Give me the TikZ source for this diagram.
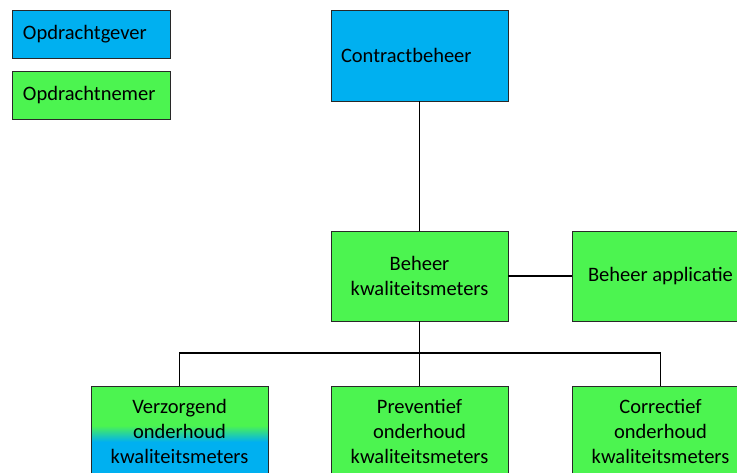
\documentclass[tikz,border=0pt]{standalone}
\usepackage{fontspec}
\setmainfont{Carlito}
\usepackage{xcolor}
\usepackage{tikz}
\usetikzlibrary{positioning,calc}
\definecolor{gvblue}{RGB}{0,176,240}
\definecolor{gngreen}{RGB}{76,244,80}
\definecolor{boxline}{RGB}{40,40,40}
\pgfdeclareverticalshading{verzorgshade}{100bp}{color(0bp)=(gvblue); color(44bp)=(gvblue); color(53bp)=(gngreen); color(100bp)=(gngreen)}

\begin{document}
\begin{tikzpicture}[x=1pt, y=-1pt,
    box/.style={draw=boxline, line width=0.9pt, inner sep=0pt, minimum width=177pt, minimum height=90pt, align=center, font=\fontsize{20.5}{25}\selectfont},
    legend/.style={draw=boxline, line width=0.9pt, inner xsep=11pt, inner ysep=0pt, text width=136pt, minimum height=48pt, align=left, font=\fontsize{20.5}{25}\selectfont},
    link/.style={draw=black, line width=1.6pt},
]
    \useasboundingbox (0,0) rectangle (737,473);
    \clip (0,0) rectangle (737,473);

    % Legend
    \node[legend, fill=gvblue] (leggever) at (91,34) {Opdrachtgever};
    \node[legend, fill=gngreen] (legnemer) at (91,95) {Opdrachtnemer};

    % Top
    \node[box, fill=gvblue, align=left, inner xsep=10pt, text width=157pt, minimum height=91pt] (ctrbeheer) at (419.5,55.5) {Contractbeheer};

    % Middle row
    \node[box, fill=gngreen] (kwbeheer) at (419.5,276) {Beheer\\kwaliteitsmeters};
    \node[box, fill=gngreen] (appbeheer) at (660.5,276) {Beheer applicatie};

    % Bottom row
    \node[box, shade, shading=verzorgshade] (verzorgend) at (179.5,431) {Verzorgend\\onderhoud\\kwaliteitsmeters};
    \node[box, fill=gngreen] (preventief) at (419.5,431) {Preventief\\onderhoud\\kwaliteitsmeters};
    \node[box, fill=gngreen] (correctief) at (660.5,431) {Correctief\\onderhoud\\kwaliteitsmeters};

    % Connectors
    \coordinate (bus) at (419.5,353);
    \draw[link] (ctrbeheer) -- (kwbeheer);
    \draw[link] (kwbeheer) -- (appbeheer);
    \draw[link] (kwbeheer.south) -- (bus);
    \draw[link] (verzorgend.north) |- (bus) -| (correctief.north);
    \draw[link] (bus) -- (preventief.north);
\end{tikzpicture}
\end{document}
